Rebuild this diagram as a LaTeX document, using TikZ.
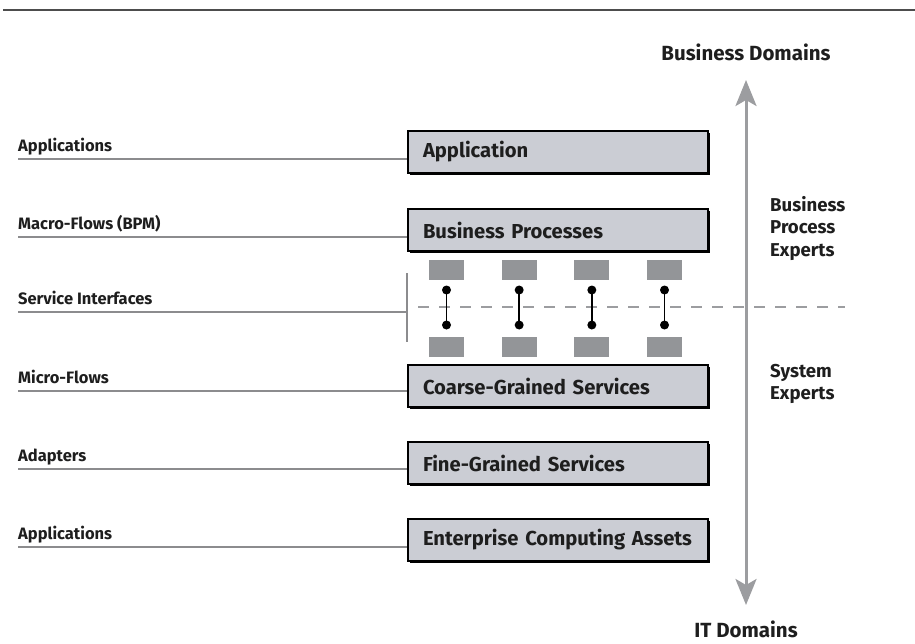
\documentclass[tikz,border=0pt]{standalone}
\usepackage{fontspec}
\setmainfont{Fira Sans}
\usepackage{tikz}
\usetikzlibrary{arrows.meta}
\definecolor{boxgray}{RGB}{203,205,212}
\definecolor{slotgray}{RGB}{147,149,152}
\definecolor{linegray}{RGB}{140,140,142}
\definecolor{arrowgray}{RGB}{156,157,160}
\definecolor{rulegray}{RGB}{77,77,77}
\definecolor{ink}{RGB}{30,30,30}

\begin{document}
\begin{tikzpicture}[x=1pt, y=-1pt,
  layer/.style={draw=black, line width=2pt, fill=boxgray, anchor=west,
    minimum height=42pt, text width=284pt, inner xsep=8pt, align=left,
    font=\fontsize{20.2}{24}\selectfont\bfseries, text=ink,
    execute at begin node={\hyphenpenalty=10000\hspace*{7pt}},
    preaction={fill=black, transform canvas={shift={(1.5pt,-1.5pt)}}}},
  lbl/.style={anchor=base west, inner sep=0pt, text=ink,
    font=\fontsize{16.5}{19}\selectfont\bfseries},
  side/.style={anchor=north west, inner sep=0pt, align=left, text=ink,
    font=\fontsize{18.6}{22.5}\selectfont\bfseries},
  dom/.style={anchor=base, inner sep=0pt, text=ink,
    font=\fontsize{20.5}{24}\selectfont\bfseries},
  lblline/.style={draw=linegray, line width=1.6pt},
  slot/.style={fill=slotgray, minimum width=35pt, minimum height=20pt, inner sep=0pt},
  dot/.style={circle, fill=black, minimum size=9pt, inner sep=0pt},
  stem/.style={draw=black, line width=1.8pt},
  dashline/.style={draw=arrowgray, line width=2.2pt, dash pattern=on 11pt off 10pt},
  domarrow/.style={{Stealth[length=26pt,width=21pt,inset=6pt]}-{Stealth[length=26pt,width=21pt,inset=6pt]},
    draw=arrowgray, line width=3pt}]
\useasboundingbox (0,0) rectangle (915,643);

% Top rule
\coordinate (rl) at (3,10);
\coordinate (rr) at (915,10);
\draw[draw=rulegray, line width=1.5pt] (rl) -- (rr);

% Layers
\node[layer] (app) at (407,152) {Application};
\node[layer] (bp) at (407,230) {Business Processes};
\node[layer] (cgs) at (407,386) {Coarse-Grained Services};
\node[layer] (fgs) at (407,463) {Fine-Grained Services};
\node[layer] (eca) at (407,540) {Enterprise Computing Assets};

% Service interfaces
\coordinate (sitop) at (407,273);
\coordinate (sibot) at (407,342);
\draw[draw=linegray, line width=2pt] (sitop) -- (sibot);
\coordinate (dl) at (418,307);
\coordinate (dr) at (845,307);
\draw[dashline] (dl) -- (dr);
\foreach \i in {0,...,3} {
  \node[slot] (up\i) at ({446.5+72.67*\i},270) {};
  \node[slot] (dn\i) at ({446.5+72.67*\i},347) {};
  \node[dot] (ta\i) at ({446.5+72.67*\i},290) {};
  \node[dot] (tb\i) at ({446.5+72.67*\i},325) {};
  \draw[stem] (ta\i.center) -- (tb\i.center);
}

% Left labels
\node[lbl] (lapp) at (18,151.5) {Applications};
\node[lbl] (lmac) at (18,229.5) {Macro-Flows (BPM)};
\node[lbl] (lsi) at (18,304.5) {Service Interfaces};
\node[lbl] (lmic) at (18,383.5) {Micro-Flows};
\node[lbl] (lada) at (18,461.5) {Adapters};
\node[lbl] (lasset) at (18,539.5) {Applications};
\draw[lblline] ([yshift=-7.5pt]lapp.base west) -- ([yshift=-7.5pt]lapp.base west -| app.west);
\draw[lblline] ([yshift=-7.5pt]lmac.base west) -- ([yshift=-7.5pt]lmac.base west -| bp.west);
\draw[lblline] ([yshift=-7.5pt]lsi.base west) -- ([yshift=-7.5pt]lsi.base west -| sitop);
\draw[lblline] ([yshift=-7.5pt]lmic.base west) -- ([yshift=-7.5pt]lmic.base west -| cgs.west);
\draw[lblline] ([yshift=-7.5pt]lada.base west) -- ([yshift=-7.5pt]lada.base west -| fgs.west);
\draw[lblline] ([yshift=-7.5pt]lasset.base west) -- ([yshift=-7.5pt]lasset.base west -| eca.west);

% Domains axis
\node[dom] (bd) at (746,60) {Business Domains};
\node[dom] (itd) at (746,637) {IT Domains};
\coordinate (atop) at (746,80);
\coordinate (abot) at (746,605);
\draw[domarrow] (abot) -- (atop);

% Experts
\node[side] (bpe) at (770,196) {Business\\Process\\Experts};
\node[side] (sye) at (770,364) {System\\Experts};
\end{tikzpicture}
\end{document}
